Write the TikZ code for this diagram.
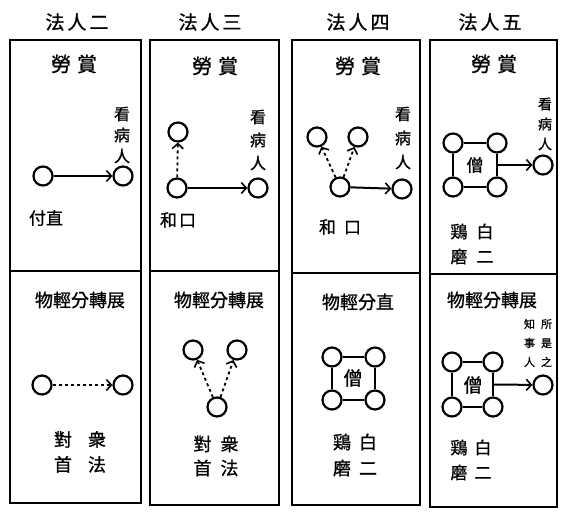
\documentclass[tikz,border=0pt]{standalone}
\usepackage{fontspec}
\setmainfont{Noto Sans CJK TC}[FakeBold=1.0]
\usetikzlibrary{arrows.meta}
\tikzset{
  panel/.style={draw, line width=1.6pt},
  ring/.style={circle, draw, line width=2.2pt, minimum size=19pt, inner sep=0pt},
  solidarrow/.style={line width=2pt, -{Straight Barb[length=5pt,width=11pt,line width=1.6pt]}},
  dasharrow/.style={line width=1.8pt, dash pattern=on 3pt off 3pt, -{Straight Barb[length=5pt,width=11pt,line width=1.6pt]}},
  sqline/.style={line width=1.8pt},
  hdr/.style={font=\fontsize{19}{22}\selectfont, inner sep=0pt},
  ttl/.style={font=\fontsize{20}{22}\selectfont, inner sep=0pt},
  lbl/.style={font=\fontsize{17}{20}\selectfont, inner sep=0pt, align=center},
  vlbl/.style={font=\fontsize{16}{21}\selectfont, inner sep=0pt, align=center},
  tiny/.style={font=\fontsize{11}{19}\selectfont, inner sep=0pt, align=center},
}
\begin{document}
\begin{tikzpicture}[x=1pt,y=-1pt]
\useasboundingbox (0,0) rectangle (566,516);
% headers
\node[hdr] (h1) at (77,22) {法\hspace{3pt}人\hspace{3pt}二};
\node[hdr] (h2) at (210,22) {法\hspace{3pt}人\hspace{3pt}三};
\node[hdr] (h3) at (358,22) {法\hspace{3pt}人\hspace{3pt}四};
\node[hdr] (h4) at (490,22) {法\hspace{3pt}人\hspace{3pt}五};
% panels
\draw[panel] (10,40) rectangle (141,503);
\draw[panel] (10,271) -- (141,271);
\draw[panel] (150,40) rectangle (279,505);
\draw[panel] (150,271) -- (279,271);
\draw[panel] (292,40) rectangle (420,505);
\draw[panel] (292,273) -- (420,273);
\draw[panel] (430,40) rectangle (557,507);
\draw[panel] (430,274) -- (557,274);
% titles
\node[ttl] (t1) at (74,64) {勞\hspace{6pt}賞};
\node[ttl] (t2) at (215,66) {勞\hspace{6pt}賞};
\node[ttl] (t3) at (358,66) {勞\hspace{6pt}賞};
\node[ttl] (t4) at (494,64) {勞\hspace{6pt}賞};
% ---- column 1 top
\node[ring] (a1) at (43,176) {};
\node[ring] (b1) at (123,176) {};
\draw[solidarrow] (a1) -- (b1);
\node[vlbl] (k1) at (122,135) {看\\病\\人};
\node[lbl] (f1) at (46,218) {付直};
% ---- column 2 top
\node[ring] (t2c) at (178,132) {};
\node[ring] (c2) at (177,188) {};
\node[ring] (r2) at (258,188) {};
\draw[dasharrow] (c2) -- (t2c);
\draw[solidarrow] (c2) -- (r2);
\node[vlbl, font=\fontsize{16}{23}\selectfont] (k2) at (258,140) {看\\病\\人};
\node[lbl] (w2) at (178,220) {和\hspace{2pt}口};
% ---- column 3 top
\node[ring] (tl3) at (317,137) {};
\node[ring] (tr3) at (358,137) {};
\node[ring] (c3) at (340,187) {};
\node[ring] (r3) at (402,189) {};
\draw[dasharrow] (c3) -- (tl3);
\draw[dasharrow] (c3) -- (tr3);
\draw[solidarrow] (c3) -- (r3);
\node[vlbl, font=\fontsize{16}{24}\selectfont] (k3) at (403,138) {看\\病\\人};
\node[lbl] (w3) at (340,227) {和\hspace{8pt}口};
% ---- column 4 top
\node[ring] (q1) at (453,143) {};
\node[ring] (q2) at (497,143) {};
\node[ring] (q3) at (453,187) {};
\node[ring] (q4) at (497,187) {};
\draw[sqline] (q1) -- (q2);
\draw[sqline] (q2) -- (q4);
\draw[sqline] (q4) -- (q3);
\draw[sqline] (q3) -- (q1);
\path (q2) -- (q4) coordinate[midway] (m4);
\node[lbl] (s4) at (475,165) {僧};
\node[ring] (r4) at (543,165) {};
\draw[solidarrow] (m4) -- (r4);
\node[vlbl, font=\fontsize{14}{20}\selectfont] (k4) at (545,124) {看\\病\\人};
\node[lbl, font=\fontsize{17}{25}\selectfont] (j4) at (472,244) {鶏\hspace{9pt}白\\磨\hspace{9pt}二};
% ---- column 1 bottom
\node[lbl, font=\fontsize{18}{20}\selectfont] (p1) at (80,300) {物輕分轉展};
\node[ring] (a5) at (42,385) {};
\node[ring] (b5) at (123,385) {};
\draw[dasharrow] (a5) -- (b5);
\node[lbl, font=\fontsize{18}{25}\selectfont] (d5) at (80,452) {對\hspace{16pt}衆\\首\hspace{16pt}法};
% ---- column 2 bottom
\node[lbl, font=\fontsize{18}{20}\selectfont] (p2) at (219,300) {物輕分轉展};
\node[ring] (tl6) at (193,350) {};
\node[ring] (tr6) at (237,350) {};
\node[ring] (c6) at (217,407) {};
\draw[dasharrow] (c6) -- (tl6);
\draw[dasharrow] (c6) -- (tr6);
\node[lbl, font=\fontsize{18}{24}\selectfont] (d6) at (216,456) {對\hspace{9pt}衆\\首\hspace{9pt}法};
% ---- column 3 bottom
\node[lbl, font=\fontsize{18}{20}\selectfont] (p3) at (358,302) {物輕分直};
\node[ring] (u1) at (332,357) {};
\node[ring] (u2) at (375,357) {};
\node[ring] (u3) at (332,400) {};
\node[ring] (u4) at (375,400) {};
\draw[sqline] (u1) -- (u2);
\draw[sqline] (u2) -- (u4);
\draw[sqline] (u4) -- (u3);
\draw[sqline] (u3) -- (u1);
\node[lbl, font=\fontsize{19}{20}\selectfont] (s7) at (353,378) {僧};
\node[lbl, font=\fontsize{18}{26}\selectfont] (j7) at (355,455) {鶏\hspace{8pt}白\\磨\hspace{8pt}二};
% ---- column 4 bottom
\node[lbl, font=\fontsize{18}{20}\selectfont] (p4) at (492,300) {物輕分轉展};
\node[ring] (v1) at (452,362) {};
\node[ring] (v2) at (493,362) {};
\node[ring] (v3) at (452,407) {};
\node[ring] (v4) at (493,407) {};
\draw[sqline] (v1) -- (v2);
\draw[sqline] (v2) -- (v4);
\draw[sqline] (v4) -- (v3);
\draw[sqline] (v3) -- (v1);
\path (v2) -- (v4) coordinate[midway] (m8);
\node[lbl, font=\fontsize{19}{20}\selectfont] (s8) at (473,385) {僧};
\node[ring] (r8) at (543,385) {};
\draw[solidarrow] (m8) -- (r8);
\node[tiny] (k8) at (538,343) {知\hspace{6pt}所\\事\hspace{6pt}是\\人\hspace{6pt}之};
\node[lbl, font=\fontsize{17}{25}\selectfont] (j8) at (471,460) {鶏\hspace{7pt}白\\磨\hspace{7pt}二};
\end{tikzpicture}
\end{document}
